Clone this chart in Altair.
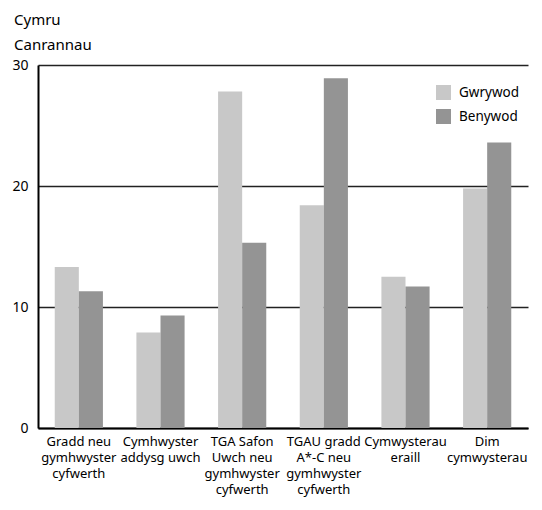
import altair as alt
import pandas as pd

categories = [
    "Gradd neu|gymhwyster|cyfwerth",
    "Cymhwyster|addysg uwch",
    "TGA Safon|Uwch neu|gymhwyster|cyfwerth",
    "TGAU gradd|A*-C neu|gymhwyster|cyfwerth",
    "Cymwysterau|eraill",
    "Dim|cymwysterau",
]
series = ["Gwrywod", "Benywod"]
gwrywod = [13.3, 7.9, 27.8, 18.4, 12.5, 19.8]
benywod = [11.3, 9.3, 15.3, 28.9, 11.7, 23.6]
colors = ["#c8c8c8", "#949494"]

rows = []
for c, g, b in zip(categories, gwrywod, benywod):
    rows.append({"cat": c, "series": "Gwrywod", "value": g})
    rows.append({"cat": c, "series": "Benywod", "value": b})
df = pd.DataFrame(rows)

FONT = "Noto Sans"

chart = alt.Chart(df).mark_bar().encode(
    x=alt.X("cat:N", sort=categories, title=None,
            scale=alt.Scale(paddingInner=0.41, paddingOuter=0.205),
            axis=alt.Axis(labelExpr="split(datum.label, '|')", labelAngle=0,
                          ticks=False, domain=True, domainColor="#000000", domainWidth=2,
                          labelFont=FONT, labelFontSize=13, labelColor="#000000",
                          labelPadding=7, labelLineHeight=16, labelBaseline="top",
                          labelOverlap=False, labelBound=False, labelFlush=False)),
    xOffset=alt.XOffset("series:N", sort=series),
    y=alt.Y("value:Q", title=None,
            scale=alt.Scale(domain=[0, 30], nice=False),
            axis=alt.Axis(values=[0, 10, 20, 30], ticks=False, grid=True,
                          gridColor="#222222", gridWidth=1.3,
                          domainColor="#000000", domainWidth=2,
                          labelFont=FONT, labelFontSize=14, labelColor="#000000",
                          labelPadding=10)),
    color=alt.Color("series:N", sort=series,
                    scale=alt.Scale(domain=series, range=colors),
                    legend=alt.Legend(title=None, orient="none", legendX=398, legendY=20,
                                      symbolType="square", symbolSize=225,
                                      symbolStrokeWidth=0, symbolOpacity=1,
                                      labelFont=FONT, labelFontSize=13.5, labelColor="#000000",
                                      rowPadding=9, labelOffset=8)),
).properties(
    width=490,
    height=363,
    autosize=alt.AutoSizeParams(type="none"),
    padding={"left": 30, "top": 57, "right": 6, "bottom": 74},
    title=alt.Title(["Cymru", "Canrannau"], anchor="start", frame="group",
                    dx=-24, offset=5, font=FONT, fontSize=15, fontWeight="normal",
                    color="#000000", lineHeight=25),
).configure_view(stroke=None)

chart.save("out.html", embed_options={"renderer": "svg", "actions": False})
